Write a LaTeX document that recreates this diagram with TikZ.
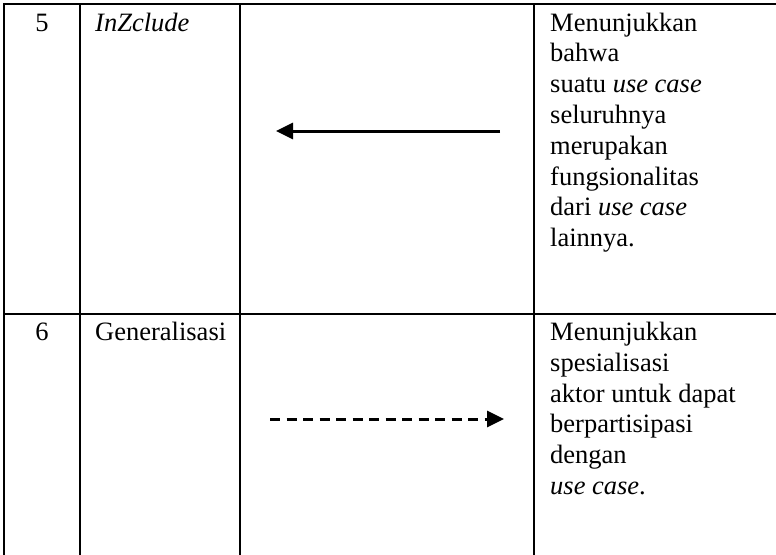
\documentclass[tikz,border=0pt]{standalone}
\usepackage{fontspec}
\setmainfont{Liberation Serif}
\usetikzlibrary{arrows.meta}
\tikzset{
  rule/.style={line width=2.8pt, line cap=rect},
  cell/.style={inner sep=0pt, font=\fontsize{26.5}{30.8}\selectfont},
  conn/.style={line width=3pt, -{Triangle[length=17pt,width=16pt]}},
  dashconn/.style={conn, dash pattern=on 10pt off 6.5pt}
}
\begin{document}
\begin{tikzpicture}[x=1pt,y=-1pt]
  \useasboundingbox (0,0) rectangle (776,554);
  % table grid
  \draw[rule] (4,4) -- (776,4);
  \draw[rule] (4,314) -- (776,314);
  \foreach \cx in {4,80,240,534}
    \draw[rule] (\cx,4) -- (\cx,554);

  % row 5
  \node[cell, anchor=base] (n5) at (42,31) {5};
  \node[cell, anchor=base west] (t5) at (95,31) {\itshape InZclude};
  \node[cell, anchor=base west] (d5) at (550,31) {\parbox[t]{220pt}{\raggedright
    Menunjukkan\\ bahwa\\ suatu \textit{use case}\\ seluruhnya\\ merupakan\\
    fungsionalitas\\ dari \textit{use case}\\ lainnya.}};
  \coordinate (i1) at (500,131);
  \coordinate (i2) at (276,131);
  \draw[conn] (i1) -- (i2);

  % row 6
  \node[cell, anchor=base] (n6) at (42,340.5) {6};
  \node[cell, anchor=base west] (t6) at (95,340.5) {Generalisasi};
  \node[cell, anchor=base west] (d6) at (550,340.5) {\parbox[t]{220pt}{\raggedright
    Menunjukkan\\ spesialisasi\\ aktor untuk dapat\\ berpartisipasi\\ dengan\\
    \textit{use case}.}};
  \coordinate (g1) at (270,419);
  \coordinate (g2) at (504,419);
  \draw[dashconn] (g1) -- (g2);
\end{tikzpicture}
\end{document}
